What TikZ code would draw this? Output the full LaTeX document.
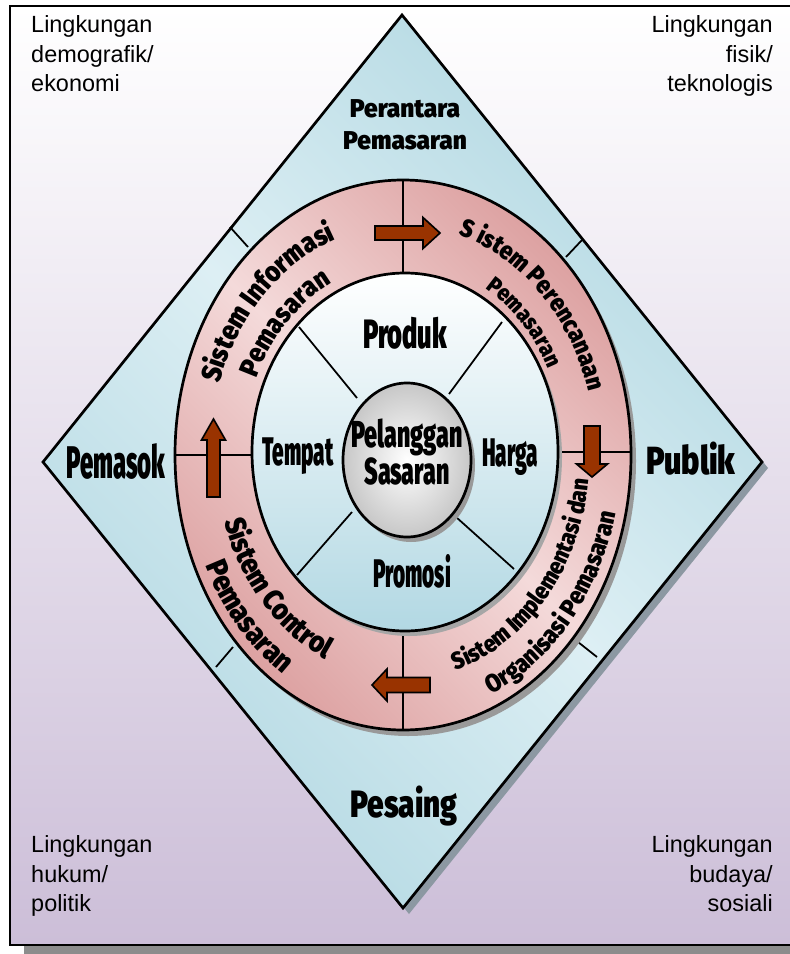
\documentclass[tikz,border=0pt]{standalone}
\usepackage{fontspec}
\setmainfont{Liberation Sans}
\newfontfamily\narrowA{Fira Sans}[UprightFont={* Black}, FakeStretch=0.52]
\newfontfamily\narrowB{Fira Sans}[UprightFont={* Black}, FakeStretch=0.62]
\newfontfamily\narrowC{Fira Sans}[UprightFont={* Black}, FakeStretch=0.78]
\newfontfamily\narrowD{Fira Sans}[UprightFont={* Black}, FakeStretch=0.95]
\newfontfamily\curvfont{Fira Sans}[UprightFont={* Black}, FakeStretch=0.88]
\usetikzlibrary{decorations.text}

\definecolor{diamonddark}{HTML}{B2D8E2}
\definecolor{diamondlight}{HTML}{DDEFF4}
\definecolor{ringdark}{HTML}{DDA2A2}
\definecolor{ringlight}{HTML}{F4DADA}
\definecolor{diskblue}{HTML}{B2D8E3}
\definecolor{bglav}{HTML}{CCBED8}
\definecolor{arrowbrown}{HTML}{993300}
\definecolor{shadowgray}{HTML}{8C98A2}

\newcommand\cfont[1]{\curvfont\fontsize{#1}{#1}\selectfont}
\newcommand\blockarrow[6]{%
  \draw[blk, shift={#1}, rotate=#2] (0,-#4) -- ({#3-#6},-#4) -- ({#3-#6},-#5) -- (#3,0)
    -- ({#3-#6},#5) -- ({#3-#6},#4) -- (0,#4) -- cycle;}

\begin{document}
\begin{tikzpicture}[x=0.03cm, y=0.03cm,
   bigline/.style={line width=2.3pt},
   thinline/.style={line width=1.5pt},
   blk/.style={fill=arrowbrown, draw=black, line width=1.4pt, line join=miter},
   corner/.style={inner sep=0pt, font=\fontsize{20}{25.5}\selectfont},
   lbl/.style={inner sep=0pt, align=center},
   curved/.style={decorate, decoration={text along path, text align=center, text={#1}}}]
   \useasboundingbox (0,0) rectangle (790,-954);
   \clip (0,0) rectangle (790,-954);

   \coordinate (top) at (402,-15);
   \coordinate (lft) at (43,-462);
   \coordinate (rgt) at (762,-462);
   \coordinate (bot) at (403,-908);
   \coordinate (ring) at (403,-455);
   \coordinate (disk) at (405,-452);
   \coordinate (hub) at (407,-460);

   \fill[black!45] (24,-15) rectangle (810,-954);
   \draw[line width=2pt, top color=white, bottom color=bglav] (10,-6) rectangle (800,-945);

   \fill[shadowgray] ([shift={(6,-6)}]top) -- ([shift={(6,-6)}]rgt) -- ([shift={(6,-6)}]bot) -- ([shift={(6,-6)}]lft) -- cycle;
   \draw[bigline, left color=diamonddark, right color=diamonddark, middle color=diamondlight, shading angle=135]
      (top) -- (rgt) -- (bot) -- (lft) -- cycle;
   \draw[thinline] (230,-227) -- (248,-247);
   \draw[thinline] (582,-240) -- (566,-257);
   \draw[thinline] (216,-667) -- (233,-647);
   \draw[thinline] (597,-657) -- (578,-642);

   \fill[black!40] ([shift={(5,-6)}]ring) ellipse [x radius=228, y radius=275];
   \draw[bigline, left color=ringdark, right color=ringdark, middle color=ringlight, shading angle=135]
      (ring) ellipse [x radius=228, y radius=275];
   \draw[thinline] (403,-180) -- (403,-273);
   \draw[thinline] (175,-455) -- (252,-455);
   \draw[thinline] (557,-452) -- (631,-452);
   \draw[thinline] (403,-631) -- (403,-730);

   \fill[black!35] ([shift={(4,-5)}]disk) ellipse [x radius=153, y radius=179];
   \draw[bigline, top color=white, bottom color=diskblue] (disk) ellipse [x radius=153, y radius=179];
   \draw[thinline] (299,-327) -- (357,-398);
   \draw[thinline] (502,-322) -- (449,-394);
   \draw[thinline] (297,-575) -- (352,-512);
   \draw[thinline] (514,-569) -- (456,-517);

   \fill[black!40] ([shift={(4,-5)}]hub) ellipse [x radius=64, y radius=77];
   \draw[bigline, inner color=white, outer color=black!22] (hub) ellipse [x radius=64, y radius=77];

   \blockarrow{(375,-233)}{0}{65}{7}{15.5}{17}
   \blockarrow{(592,-426)}{-90}{51}{8}{15.5}{13}
   \blockarrow{(430,-685)}{180}{58}{7.5}{16}{15}
   \blockarrow{(213.5,-497)}{90}{78}{6.5}{12}{21}

   \path[curved={|\cfont{24}|Sistem Informasi}]
      ([shift={(175:193 and 230)}]ring) arc[start angle=175, end angle=95, x radius=193, y radius=230];
   \path[curved={|\cfont{23.5}|Pemasaran}]
      ([shift={(175:160 and 192)}]ring) arc[start angle=175, end angle=95, x radius=160, y radius=192];
   \path[curved={|\cfont{21.5}|S istem Perencanaan}]
      ([shift={(91:193 and 230)}]ring) arc[start angle=91, end angle=1, x radius=193, y radius=230];
   \path[curved={|\cfont{19.5}|Pemasaran}]
      ([shift={(90:162 and 194)}]ring) arc[start angle=90, end angle=0, x radius=162, y radius=194];
   \path[curved={|\cfont{20.5}|Sistem Implementasi dan}]
      ([shift={(-86:187 and 224)}]ring) arc[start angle=-86, end angle=4, x radius=187, y radius=224];
   \path[curved={|\cfont{21.5}|Organisasi Pemasaran}]
      ([shift={(-86:218 and 262)}]ring) arc[start angle=-86, end angle=4, x radius=218, y radius=262];
   \path[curved={|\cfont{25}|Sistem Control}]
      ([shift={(178:187 and 224)}]ring) arc[start angle=178, end angle=268, x radius=187, y radius=224];
   \path[curved={|\cfont{25.5}|Pemasaran}]
      ([shift={(178:218 and 262)}]ring) arc[start angle=178, end angle=268, x radius=218, y radius=262];

   \node[corner, anchor=north west, align=left] (envTL) at (31,-15) {Lingkungan\\demografik/\\ekonomi};
   \node[corner, anchor=north east, align=right] (envTR) at (773,-15) {Lingkungan\\fisik/\\teknologis};
   \node[corner, anchor=north west, align=left] (envBL) at (31,-835) {Lingkungan\\hukum/\\politik};
   \node[corner, anchor=north east, align=right] (envBR) at (773,-835) {Lingkungan\\budaya/\\sosiali};

   \node[lbl, anchor=north, font=\narrowD\fontsize{22}{28}\selectfont] (perantara) at (405,-99) {Perantara\\Pemasaran};
   \node[lbl, font=\narrowA\fontsize{39}{39}\selectfont] (pemasok) at (116,-461) {Pemasok};
   \node[lbl, font=\narrowC\fontsize{33.5}{33.5}\selectfont] (publik) at (691,-459) {Publik};
   \node[lbl, anchor=base, font=\narrowC\fontsize{32.5}{32.5}\selectfont] (pesaing) at (404,-817) {Pesaing};

   \node[lbl, anchor=base, font=\narrowB\fontsize{35}{35}\selectfont] (produk) at (405,-348) {Produk};
   \node[lbl, anchor=base, font=\narrowA\fontsize{34}{34}\selectfont] (tempat) at (298,-465) {Tempat};
   \node[lbl, anchor=base, font=\narrowA\fontsize{34}{34}\selectfont] (harga) at (510,-466) {Harga};
   \node[lbl, anchor=base, font=\narrowA\fontsize{34}{34}\selectfont] (promosi) at (412,-587) {Promosi};
   \node[lbl, anchor=north, font=\narrowB\fontsize{32}{31}\selectfont] (pelanggan) at (407,-419) {Pelanggan\\Sasaran};
\end{tikzpicture}
\end{document}
